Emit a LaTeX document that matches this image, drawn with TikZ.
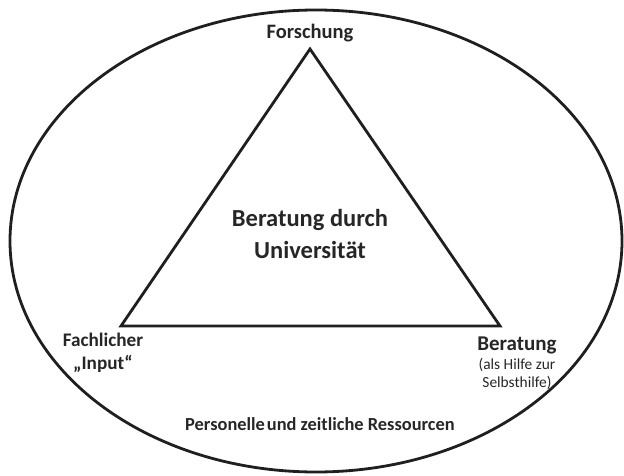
\documentclass[tikz,border=0pt]{standalone}
\usepackage{fontspec}
\setmainfont{Carlito}
\usetikzlibrary{shapes.geometric}
\begin{document}
\begin{tikzpicture}[x=1pt,y=-1pt,
  line/.style={draw=black!88,line width=2.8pt},
  lbl/.style={font=\bfseries,text=black!85,inner sep=0pt,align=center}]
\useasboundingbox (0,0) rectangle (624,476);
\node[line,ellipse,minimum width=612,minimum height=462,inner sep=0pt] (ell) at (316,241) {};
\coordinate (top) at (310,49);
\coordinate (bl) at (121,326);
\coordinate (br) at (500,326);
\draw[line,line join=miter] (top) -- (br) -- (bl) -- cycle;
\node[lbl,font=\fontsize{20.5}{22}\selectfont\bfseries] (fo) at (310,33) {Forschung};
\node[lbl,font=\fontsize{24.5}{32}\selectfont\bfseries] (mid) at (310,234) {Beratung durch\\Universität};
\node[lbl,font=\fontsize{19.2}{23}\selectfont\bfseries] (fa) at (103,353) {Fachlicher\\„Input“};
\node[lbl,font=\fontsize{21}{22}\selectfont\bfseries] (be) at (517,345) {Beratung};
\node[inner sep=0pt,align=center,text=black!85,font=\fontsize{15.4}{17.5}\selectfont] (hi) at (517,374) {(als Hilfe zur\\Selbsthilfe)};
\node[lbl,font=\fontsize{18.4}{20}\selectfont\bfseries] (pe) at (320,424) {Personelle\hspace{-0.12em} und zeitliche Ressourcen};
\end{tikzpicture}
\end{document}
